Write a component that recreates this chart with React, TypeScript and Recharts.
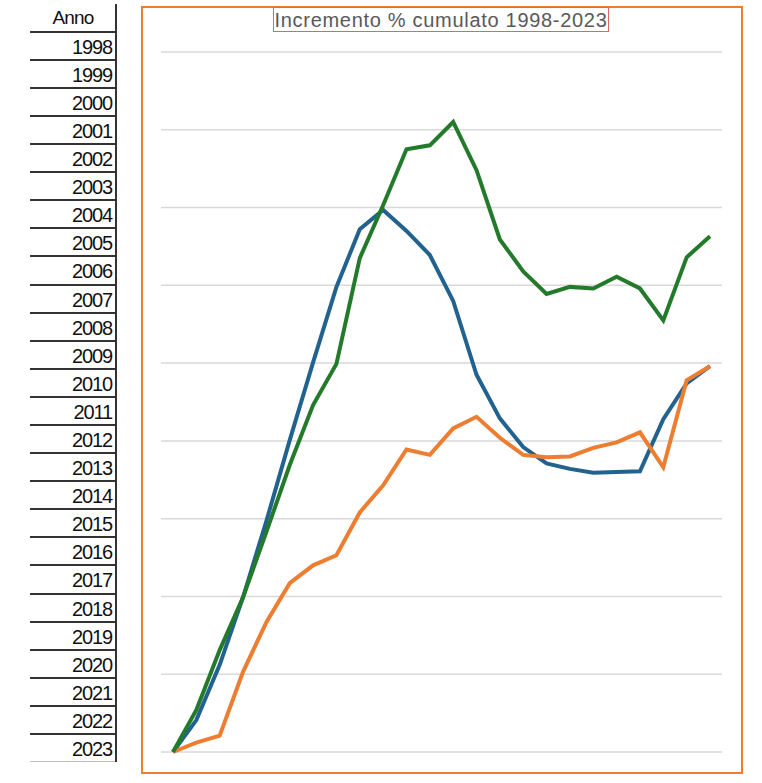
import React from 'react';
import { LineChart, Line, XAxis, YAxis, CartesianGrid } from 'recharts';

// Categories (points on the chart)
const categories = [
  '1998', '1999', '2000', '2001', '2002', '2003', '2004', '2005', '2006', '2007', '2008', '2009',
  '2010', '2011', '2012', '2013', '2014', '2015', '2016', '2017', '2018', '2019', '2020', '2021',
];

// Series values (cumulated % increase)
const blueValues = [
  0, 4.1, 11.2, 19.9, 29.7, 40.1, 50.1, 59.8, 67.2, 69.7, 67.0, 63.9,
  58.0, 48.5, 42.9, 39.2, 37.1, 36.4, 35.9, 36.0, 36.1, 42.8, 47.4, 49.6,
];
const greenValues = [
  0, 5.4, 13.1, 19.9, 28.3, 36.9, 44.6, 49.9, 63.5, 70.3, 77.5, 78.0,
  81.0, 74.8, 65.9, 61.8, 58.9, 59.8, 59.6, 61.1, 59.6, 55.5, 63.6, 66.3,
];
const orangeValues = [
  0, 1.2, 2.1, 10.3, 16.7, 21.7, 24.0, 25.3, 30.8, 34.3, 38.9, 38.2,
  41.6, 43.1, 40.4, 38.2, 37.9, 38.0, 39.1, 39.8, 41.1, 36.6, 47.8, 49.6,
];

// Y ticks (gridlines)
const yTicks = [0, 10, 20, 30, 40, 50, 60, 70, 80, 90];

// Table years
const tableYears = [
  '1998', '1999', '2000', '2001', '2002', '2003', '2004', '2005', '2006', '2007', '2008', '2009',
  '2010', '2011', '2012', '2013', '2014', '2015', '2016', '2017', '2018', '2019', '2020', '2021',
  '2022', '2023',
];

const titleText = 'Incremento % cumulato 1998-2023';
const headerText = 'Anno';

const data = categories.map((c, i) => ({
  anno: c,
  blu: blueValues[i],
  verde: greenValues[i],
  arancio: orangeValues[i],
}));

const FONT = '"Liberation Sans", Arial, sans-serif';
const ROW_TOP = 31.7;
const ROW_H = 28.09;

export default function App() {
  return (
    <div style={{ position: 'absolute', left: 0, top: 0, width: 762, height: 783, background: '#fff', fontFamily: FONT }}>
      {/* Table column */}
      <div
        style={{
          position: 'absolute', left: 30, top: 4, width: 86, height: ROW_TOP - 4,
          display: 'flex', alignItems: 'center', justifyContent: 'center',
          fontSize: 19, letterSpacing: -0.8, color: '#111',
        }}
      >
        {headerText}
      </div>
      {tableYears.map((y, i) => (
        <div
          key={y}
          style={{
            position: 'absolute', left: 30, top: ROW_TOP + i * ROW_H + 1, width: 82, height: ROW_H,
            display: 'flex', alignItems: 'center', justifyContent: 'flex-end',
            fontSize: 20, letterSpacing: -1.1, color: '#111', lineHeight: 1,
          }}
        >
          {y}
        </div>
      ))}
      {[-1, ...tableYears.map((_, i) => i)].map((i) => {
        const top = ROW_TOP + (i + 1) * ROW_H - 1;
        const last = i === tableYears.length - 1;
        return (
          <div
            key={'l' + i}
            style={{
              position: 'absolute', left: 30, top: top, width: 87, height: last ? 1 : 2,
              background: last ? '#bdbdbd' : '#333',
            }}
          />
        );
      })}
      <div style={{ position: 'absolute', left: 115, top: 4, width: 2, height: 758, background: '#333' }} />

      {/* Chart */}
      <div style={{ position: 'absolute', left: 142, top: 7 }}>
        <LineChart width={600} height={766} data={data} margin={{ top: 45, right: 20, bottom: 21, left: 19 }}>
          <CartesianGrid vertical={false} stroke="#d9d9d9" strokeWidth={1.5} />
          <XAxis dataKey="anno" hide padding={{ left: 12, right: 12 }} />
          <YAxis hide domain={[0, 90]} ticks={yTicks} />
          <Line type="linear" dataKey="blu" name="Serie 1" stroke="#22628f" strokeWidth={4} dot={false} isAnimationActive={false} />
          <Line type="linear" dataKey="arancio" name="Serie 3" stroke="#ed7d31" strokeWidth={4} dot={false} isAnimationActive={false} />
          <Line type="linear" dataKey="verde" name="Serie 2" stroke="#237a2b" strokeWidth={4} dot={false} isAnimationActive={false} />
        </LineChart>
      </div>
      {/* Chart border */}
      <div
        style={{
          position: 'absolute', left: 141, top: 6, width: 602, height: 768, boxSizing: 'border-box',
          border: '2px solid #ed7d31', pointerEvents: 'none',
        }}
      />
      {/* Title */}
      <div
        style={{
          position: 'absolute', left: 273, top: 7, width: 336, height: 25, boxSizing: 'border-box',
          border: '1px solid #e06666', display: 'flex', alignItems: 'center', justifyContent: 'center',
          fontSize: 20, letterSpacing: 0.7, color: '#595959', whiteSpace: 'nowrap', lineHeight: 1,
          background: '#fff',
        }}
      >
        {titleText}
      </div>
    </div>
  );
}
